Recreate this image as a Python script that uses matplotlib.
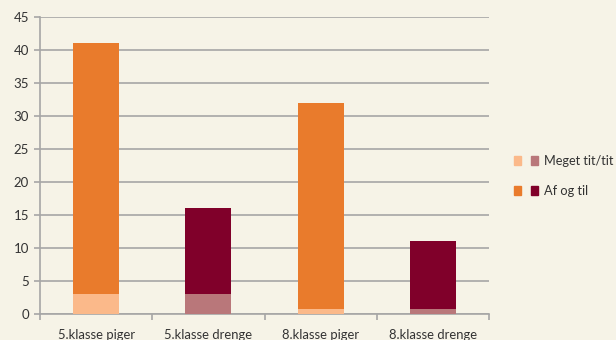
import matplotlib.pyplot as plt
from matplotlib.patches import Rectangle
from matplotlib.legend_handler import HandlerTuple

categories = ['5.klasse piger', '5.klasse drenge', '8.klasse piger', '8.klasse drenge']
meget_tit = [3, 3, 0.8, 0.8]
af_og_til = [38, 13, 31.2, 10.2]

light_cols = ['#FBB98A', '#B9777A', '#FBB98A', '#B9777A']
dark_cols = ['#E97B2C', '#80002A', '#E97B2C', '#80002A']

bg = '#F6F3E7'
grid = '#A6A6A6'

plt.rcParams['font.family'] = ['Lato', 'DejaVu Sans']

fig = plt.figure(figsize=(6.16, 3.4), dpi=100, facecolor=bg)
ax = fig.add_axes([40 / 616, 1 - 314 / 340, 449 / 616, 297 / 340])
ax.set_facecolor(bg)

x = range(len(categories))
ax.bar(x, meget_tit, width=0.41, color=light_cols, zorder=3)
ax.bar(x, af_og_til, width=0.41, bottom=meget_tit, color=dark_cols, zorder=3)

ax.set_xlim(-0.5, len(categories) - 0.5)
ax.set_ylim(0, 45)
ax.set_yticks(range(0, 46, 5))
ax.yaxis.grid(True, color=grid, linewidth=1.2, zorder=0)

ax.set_xticks(list(x))
ax.set_xticklabels(categories, fontsize=9.4, color='#333333')
ax.set_xticks([i + 0.5 for i in range(-1, len(categories))], minor=True)
ax.tick_params(axis='x', which='major', length=0, pad=11)
ax.tick_params(axis='x', which='minor', length=4, color=grid, width=1.2)
ax.tick_params(axis='y', length=4, color=grid, width=1.2, labelsize=9.5,
               labelcolor='#333333', pad=4)

for s in ['top', 'right']:
    ax.spines[s].set_visible(False)
for s in ['left', 'bottom']:
    ax.spines[s].set_color(grid)
    ax.spines[s].set_linewidth(1.2)

h1 = (Rectangle((0, 0), 1, 1, color=light_cols[0]), Rectangle((0, 0), 1, 1, color=light_cols[1]))
h2 = (Rectangle((0, 0), 1, 1, color=dark_cols[0]), Rectangle((0, 0), 1, 1, color=dark_cols[1]))
fig.legend([h1, h2], ['Meget tit/tit', 'Af og til'],
           handler_map={tuple: HandlerTuple(ndivide=None, pad=0.8)},
           loc='center left', bbox_to_anchor=(502 / 616, 1 - 176 / 340),
           frameon=False, fontsize=9.2, handlelength=1.9, handleheight=0.7,
           labelspacing=1.45, handletextpad=0.5, labelcolor='#333333')

fig.savefig('out.png', dpi=100, facecolor=bg)
